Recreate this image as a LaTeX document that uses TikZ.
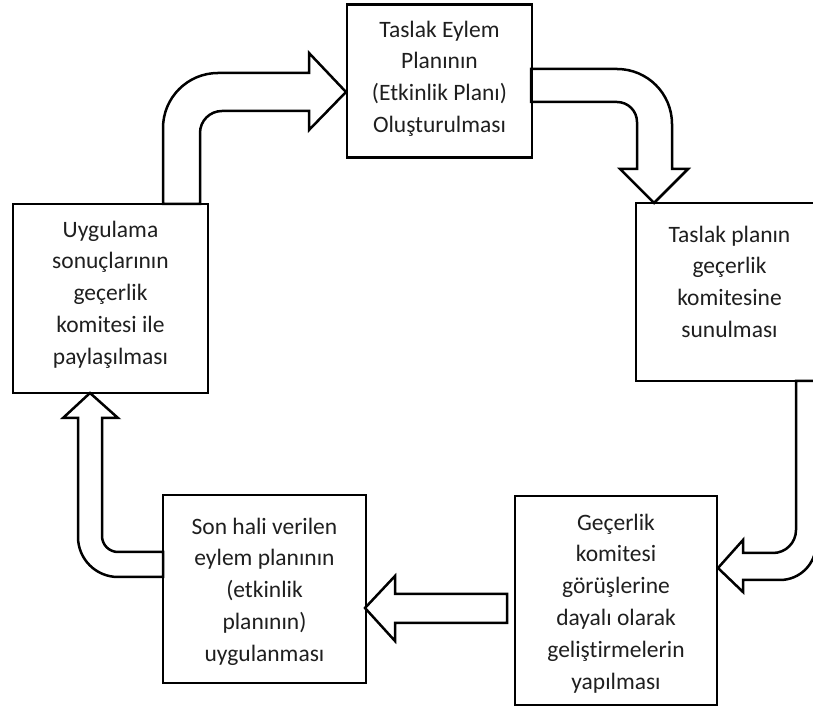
\documentclass[tikz,border=0pt]{standalone}
\usepackage{fontspec}
\setmainfont{Carlito}[Ligatures=NoCommon]
\begin{document}
\begin{tikzpicture}[x=1pt,y=1pt,
  box/.style={draw, line width=2.8pt, rectangle, inner sep=0pt},
  boxtext/.style={anchor=north, align=center, inner sep=0pt,
    font=\fontsize{23.5}{31.8}\selectfont, text=black!88},
  blockarrow/.style={draw, line width=2.5pt, fill=white, line join=miter}]
\useasboundingbox (0,0) rectangle (813,711);
\fill[white] (0,0) rectangle (813,711);

% hollow block arrows
\draw[blockarrow] (163,507) -- (163,583) arc[start angle=180,end angle=90,radius=55]
  -- (309,638) -- (309,658) -- (346,619) -- (309,581) -- (309,600) -- (222,600)
  arc[start angle=90,end angle=180,radius=22] -- (200,507) -- cycle;
\draw[blockarrow] (531,642) -- (617,642) arc[start angle=90,end angle=0,radius=55]
  -- (672,542) -- (688,542) -- (654,508) -- (620,542) -- (637,542) -- (637,589)
  arc[start angle=0,end angle=90,radius=20] -- (531,609) -- cycle;
% the bent arrow on the right runs off the page edge
\begin{scope}
  \clip (0,0) rectangle (813,711);
  \draw[blockarrow] (796,330) -- (796,181) arc[start angle=0,end angle=-90,radius=23]
    -- (743,158) -- (743,171) -- (718,143) -- (743,119) -- (743,131) -- (780,131)
    arc[start angle=-90,end angle=0,radius=36] -- (816,330) -- cycle;
\end{scope}
\draw[blockarrow] (507,117) -- (395,117) -- (395,135) -- (365,103) -- (395,70)
  -- (395,88) -- (507,88) -- cycle;
\draw[blockarrow] (163,159) -- (118,159) arc[start angle=-90,end angle=-180,radius=16]
  -- (102,293) -- (118,293) -- (90,318) -- (63,293) -- (78,293) -- (78,174)
  arc[start angle=180,end angle=270,radius=40] -- (163,134) -- cycle;

% process boxes; the second one is open towards the page edge
\node[box, minimum width=185pt, minimum height=153pt] (draft) at (439.5,630) {};
\coordinate (presentNE) at (813,508);
\coordinate (presentNW) at (636,508);
\coordinate (presentSW) at (636,330);
\coordinate (presentSE) at (813,330);
\draw[line width=2.8pt] (presentNE) -- (presentNW) -- (presentSW) -- (presentSE);
\node[box, minimum width=202pt, minimum height=209pt] (improve) at (616,110.5) {};
\node[box, minimum width=203pt, minimum height=188pt] (apply) at (264.5,122) {};
\node[box, minimum width=195pt, minimum height=189pt] (share) at (110.5,412.5) {};

% box texts
\node[boxtext] (drafttext) at (439.5,690.5) {Taslak Eylem\\Planının\\(Etkinlik Planı)\\Oluşturulması};
\node[boxtext] (presenttext) at (729.5,485.5) {Taslak planın\\geçerlik\\komitesine\\sunulması};
\node[boxtext] (improvetext) at (616,197.5) {Geçerlik\\komitesi\\görüşlerine\\dayalı olarak\\geliştirmelerin\\yapılması};
\node[boxtext] (applytext) at (264.5,193.5) {Son hali verilen\\eylem planının\\(etkinlik\\planının)\\uygulanması};
\node[boxtext] (sharetext) at (110.5,490.5) {Uygulama\\sonuçlarının\\geçerlik\\komitesi ile\\paylaşılması};
\end{tikzpicture}
\end{document}
